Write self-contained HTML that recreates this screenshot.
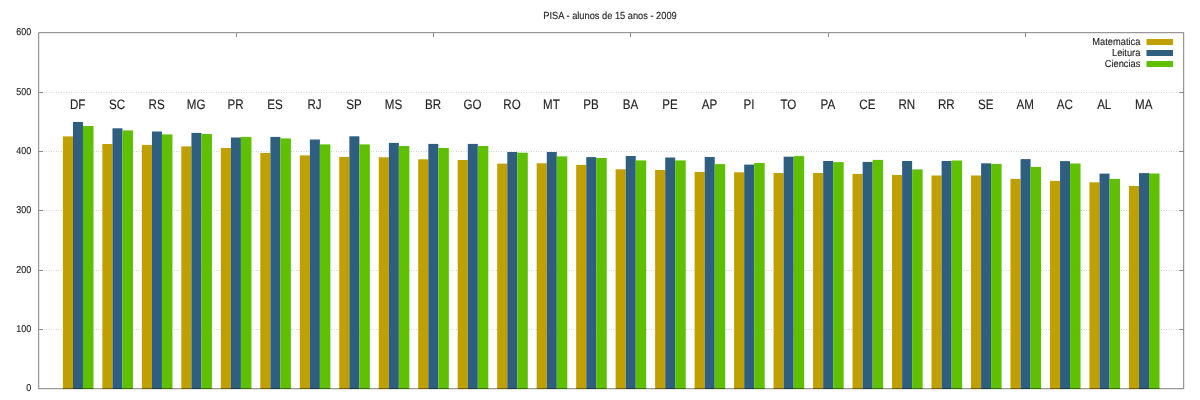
<!DOCTYPE html>
<html><head><meta charset="utf-8"><style>
html,body{margin:0;padding:0;background:#fff;}
svg{display:block;will-change:transform;}
text{font-family:"Liberation Sans",sans-serif;fill:#242424;stroke:#242424;stroke-width:0.12px;text-rendering:geometricPrecision;}
</style></head><body>
<svg width="1200" height="400" viewBox="0 0 1200 400">
<rect x="0" y="0" width="1200" height="400" fill="#fff"/>

<line x1="43.5" y1="92.5" x2="1178" y2="92.5" stroke="#d0d0d0" stroke-width="1" stroke-dasharray="1,1.5"/>
<line x1="43.5" y1="151.5" x2="1178" y2="151.5" stroke="#d0d0d0" stroke-width="1" stroke-dasharray="1,1.5"/>
<line x1="43.5" y1="210.5" x2="1178" y2="210.5" stroke="#d0d0d0" stroke-width="1" stroke-dasharray="1,1.5"/>
<line x1="43.5" y1="270.5" x2="1178" y2="270.5" stroke="#d0d0d0" stroke-width="1" stroke-dasharray="1,1.5"/>
<line x1="43.5" y1="329.5" x2="1178" y2="329.5" stroke="#d0d0d0" stroke-width="1" stroke-dasharray="1,1.5"/>
<rect x="62.88" y="136.40" width="10.10" height="252.60" fill="#c0a000"/>
<rect x="72.98" y="122.00" width="10.00" height="267.00" fill="#2e5f80"/>
<rect x="82.98" y="126.00" width="10.50" height="263.00" fill="#5ec000"/>
<rect x="102.37" y="144.00" width="10.10" height="245.00" fill="#c0a000"/>
<rect x="112.47" y="128.30" width="10.00" height="260.70" fill="#2e5f80"/>
<rect x="122.47" y="130.40" width="10.50" height="258.60" fill="#5ec000"/>
<rect x="141.85" y="144.90" width="10.10" height="244.10" fill="#c0a000"/>
<rect x="151.95" y="131.50" width="10.00" height="257.50" fill="#2e5f80"/>
<rect x="161.95" y="134.40" width="10.50" height="254.60" fill="#5ec000"/>
<rect x="181.33" y="146.40" width="10.10" height="242.60" fill="#c0a000"/>
<rect x="191.43" y="132.90" width="10.00" height="256.10" fill="#2e5f80"/>
<rect x="201.43" y="134.00" width="10.50" height="255.00" fill="#5ec000"/>
<rect x="220.81" y="148.00" width="10.10" height="241.00" fill="#c0a000"/>
<rect x="230.91" y="137.50" width="10.00" height="251.50" fill="#2e5f80"/>
<rect x="240.91" y="136.90" width="10.50" height="252.10" fill="#5ec000"/>
<rect x="260.30" y="152.90" width="10.10" height="236.10" fill="#c0a000"/>
<rect x="270.40" y="136.90" width="10.00" height="252.10" fill="#2e5f80"/>
<rect x="280.40" y="138.40" width="10.50" height="250.60" fill="#5ec000"/>
<rect x="299.78" y="155.40" width="10.10" height="233.60" fill="#c0a000"/>
<rect x="309.88" y="139.50" width="10.00" height="249.50" fill="#2e5f80"/>
<rect x="319.88" y="144.40" width="10.50" height="244.60" fill="#5ec000"/>
<rect x="339.26" y="156.90" width="10.10" height="232.10" fill="#c0a000"/>
<rect x="349.36" y="136.30" width="10.00" height="252.70" fill="#2e5f80"/>
<rect x="359.36" y="144.40" width="10.50" height="244.60" fill="#5ec000"/>
<rect x="378.74" y="157.30" width="10.10" height="231.70" fill="#c0a000"/>
<rect x="388.84" y="142.90" width="10.00" height="246.10" fill="#2e5f80"/>
<rect x="398.84" y="146.00" width="10.50" height="243.00" fill="#5ec000"/>
<rect x="418.23" y="159.30" width="10.10" height="229.70" fill="#c0a000"/>
<rect x="428.33" y="143.90" width="10.00" height="245.10" fill="#2e5f80"/>
<rect x="438.33" y="148.00" width="10.50" height="241.00" fill="#5ec000"/>
<rect x="457.71" y="160.00" width="10.10" height="229.00" fill="#c0a000"/>
<rect x="467.81" y="143.90" width="10.00" height="245.10" fill="#2e5f80"/>
<rect x="477.81" y="146.00" width="10.50" height="243.00" fill="#5ec000"/>
<rect x="497.19" y="163.60" width="10.10" height="225.40" fill="#c0a000"/>
<rect x="507.29" y="152.00" width="10.00" height="237.00" fill="#2e5f80"/>
<rect x="517.29" y="152.70" width="10.50" height="236.30" fill="#5ec000"/>
<rect x="536.68" y="163.30" width="10.10" height="225.70" fill="#c0a000"/>
<rect x="546.78" y="152.00" width="10.00" height="237.00" fill="#2e5f80"/>
<rect x="556.78" y="156.40" width="10.50" height="232.60" fill="#5ec000"/>
<rect x="576.16" y="164.90" width="10.10" height="224.10" fill="#c0a000"/>
<rect x="586.26" y="157.10" width="10.00" height="231.90" fill="#2e5f80"/>
<rect x="596.26" y="158.00" width="10.50" height="231.00" fill="#5ec000"/>
<rect x="615.64" y="169.30" width="10.10" height="219.70" fill="#c0a000"/>
<rect x="625.74" y="156.00" width="10.00" height="233.00" fill="#2e5f80"/>
<rect x="635.74" y="160.40" width="10.50" height="228.60" fill="#5ec000"/>
<rect x="655.12" y="170.00" width="10.10" height="219.00" fill="#c0a000"/>
<rect x="665.22" y="157.50" width="10.00" height="231.50" fill="#2e5f80"/>
<rect x="675.22" y="160.40" width="10.50" height="228.60" fill="#5ec000"/>
<rect x="694.61" y="171.90" width="10.10" height="217.10" fill="#c0a000"/>
<rect x="704.71" y="157.00" width="10.00" height="232.00" fill="#2e5f80"/>
<rect x="714.71" y="164.10" width="10.50" height="224.90" fill="#5ec000"/>
<rect x="734.09" y="172.30" width="10.10" height="216.70" fill="#c0a000"/>
<rect x="744.19" y="164.60" width="10.00" height="224.40" fill="#2e5f80"/>
<rect x="754.19" y="163.00" width="10.50" height="226.00" fill="#5ec000"/>
<rect x="773.57" y="173.00" width="10.10" height="216.00" fill="#c0a000"/>
<rect x="783.67" y="156.70" width="10.00" height="232.30" fill="#2e5f80"/>
<rect x="793.67" y="156.10" width="10.50" height="232.90" fill="#5ec000"/>
<rect x="813.06" y="173.00" width="10.10" height="216.00" fill="#c0a000"/>
<rect x="823.16" y="161.00" width="10.00" height="228.00" fill="#2e5f80"/>
<rect x="833.16" y="162.10" width="10.50" height="226.90" fill="#5ec000"/>
<rect x="852.54" y="173.90" width="10.10" height="215.10" fill="#c0a000"/>
<rect x="862.64" y="161.90" width="10.00" height="227.10" fill="#2e5f80"/>
<rect x="872.64" y="159.90" width="10.50" height="229.10" fill="#5ec000"/>
<rect x="892.02" y="175.00" width="10.10" height="214.00" fill="#c0a000"/>
<rect x="902.12" y="161.00" width="10.00" height="228.00" fill="#2e5f80"/>
<rect x="912.12" y="169.40" width="10.50" height="219.60" fill="#5ec000"/>
<rect x="931.50" y="175.50" width="10.10" height="213.50" fill="#c0a000"/>
<rect x="941.60" y="161.00" width="10.00" height="228.00" fill="#2e5f80"/>
<rect x="951.60" y="160.50" width="10.50" height="228.50" fill="#5ec000"/>
<rect x="970.99" y="175.50" width="10.10" height="213.50" fill="#c0a000"/>
<rect x="981.09" y="163.30" width="10.00" height="225.70" fill="#2e5f80"/>
<rect x="991.09" y="163.90" width="10.50" height="225.10" fill="#5ec000"/>
<rect x="1010.47" y="178.90" width="10.10" height="210.10" fill="#c0a000"/>
<rect x="1020.57" y="159.10" width="10.00" height="229.90" fill="#2e5f80"/>
<rect x="1030.57" y="166.90" width="10.50" height="222.10" fill="#5ec000"/>
<rect x="1049.95" y="180.90" width="10.10" height="208.10" fill="#c0a000"/>
<rect x="1060.05" y="161.10" width="10.00" height="227.90" fill="#2e5f80"/>
<rect x="1070.05" y="163.50" width="10.50" height="225.50" fill="#5ec000"/>
<rect x="1089.43" y="182.30" width="10.10" height="206.70" fill="#c0a000"/>
<rect x="1099.53" y="173.60" width="10.00" height="215.40" fill="#2e5f80"/>
<rect x="1109.53" y="178.90" width="10.50" height="210.10" fill="#5ec000"/>
<rect x="1128.92" y="186.00" width="10.10" height="203.00" fill="#c0a000"/>
<rect x="1139.02" y="173.10" width="10.00" height="215.90" fill="#2e5f80"/>
<rect x="1149.02" y="173.50" width="10.50" height="215.50" fill="#5ec000"/>
<text transform="translate(77.68,108.60) scale(1,1.18)" font-size="11.6" text-anchor="middle">DF</text>
<text transform="translate(117.17,108.60) scale(1,1.18)" font-size="11.6" text-anchor="middle">SC</text>
<text transform="translate(156.65,108.60) scale(1,1.18)" font-size="11.6" text-anchor="middle">RS</text>
<text transform="translate(196.13,108.60) scale(1,1.18)" font-size="11.6" text-anchor="middle">MG</text>
<text transform="translate(235.61,108.60) scale(1,1.18)" font-size="11.6" text-anchor="middle">PR</text>
<text transform="translate(275.10,108.60) scale(1,1.18)" font-size="11.6" text-anchor="middle">ES</text>
<text transform="translate(314.58,108.60) scale(1,1.18)" font-size="11.6" text-anchor="middle">RJ</text>
<text transform="translate(354.06,108.60) scale(1,1.18)" font-size="11.6" text-anchor="middle">SP</text>
<text transform="translate(393.54,108.60) scale(1,1.18)" font-size="11.6" text-anchor="middle">MS</text>
<text transform="translate(433.03,108.60) scale(1,1.18)" font-size="11.6" text-anchor="middle">BR</text>
<text transform="translate(472.51,108.60) scale(1,1.18)" font-size="11.6" text-anchor="middle">GO</text>
<text transform="translate(511.99,108.60) scale(1,1.18)" font-size="11.6" text-anchor="middle">RO</text>
<text transform="translate(551.48,108.60) scale(1,1.18)" font-size="11.6" text-anchor="middle">MT</text>
<text transform="translate(590.96,108.60) scale(1,1.18)" font-size="11.6" text-anchor="middle">PB</text>
<text transform="translate(630.44,108.60) scale(1,1.18)" font-size="11.6" text-anchor="middle">BA</text>
<text transform="translate(669.92,108.60) scale(1,1.18)" font-size="11.6" text-anchor="middle">PE</text>
<text transform="translate(709.41,108.60) scale(1,1.18)" font-size="11.6" text-anchor="middle">AP</text>
<text transform="translate(748.89,108.60) scale(1,1.18)" font-size="11.6" text-anchor="middle">PI</text>
<text transform="translate(788.37,108.60) scale(1,1.18)" font-size="11.6" text-anchor="middle">TO</text>
<text transform="translate(827.86,108.60) scale(1,1.18)" font-size="11.6" text-anchor="middle">PA</text>
<text transform="translate(867.34,108.60) scale(1,1.18)" font-size="11.6" text-anchor="middle">CE</text>
<text transform="translate(906.82,108.60) scale(1,1.18)" font-size="11.6" text-anchor="middle">RN</text>
<text transform="translate(946.30,108.60) scale(1,1.18)" font-size="11.6" text-anchor="middle">RR</text>
<text transform="translate(985.79,108.60) scale(1,1.18)" font-size="11.6" text-anchor="middle">SE</text>
<text transform="translate(1025.27,108.60) scale(1,1.18)" font-size="11.6" text-anchor="middle">AM</text>
<text transform="translate(1064.75,108.60) scale(1,1.18)" font-size="11.6" text-anchor="middle">AC</text>
<text transform="translate(1104.23,108.60) scale(1,1.18)" font-size="11.6" text-anchor="middle">AL</text>
<text transform="translate(1143.72,108.60) scale(1,1.18)" font-size="11.6" text-anchor="middle">MA</text>
<path d="M38.7,32.7 H1183.7 V388.7 H38.7 Z" fill="none" stroke="rgba(0,0,0,0.5)" stroke-width="1"/>
<line x1="39.2" y1="92.5" x2="43" y2="92.5" stroke="rgba(0,0,0,0.45)"/>
<line x1="1179" y1="92.5" x2="1183.2" y2="92.5" stroke="rgba(0,0,0,0.45)"/>
<line x1="39.2" y1="151.5" x2="43" y2="151.5" stroke="rgba(0,0,0,0.45)"/>
<line x1="1179" y1="151.5" x2="1183.2" y2="151.5" stroke="rgba(0,0,0,0.45)"/>
<line x1="39.2" y1="210.5" x2="43" y2="210.5" stroke="rgba(0,0,0,0.45)"/>
<line x1="1179" y1="210.5" x2="1183.2" y2="210.5" stroke="rgba(0,0,0,0.45)"/>
<line x1="39.2" y1="270.5" x2="43" y2="270.5" stroke="rgba(0,0,0,0.45)"/>
<line x1="1179" y1="270.5" x2="1183.2" y2="270.5" stroke="rgba(0,0,0,0.45)"/>
<line x1="39.2" y1="329.5" x2="43" y2="329.5" stroke="rgba(0,0,0,0.45)"/>
<line x1="1179" y1="329.5" x2="1183.2" y2="329.5" stroke="rgba(0,0,0,0.45)"/>
<line x1="236.5" y1="33.2" x2="236.5" y2="37" stroke="rgba(0,0,0,0.45)"/>
<line x1="433.5" y1="33.2" x2="433.5" y2="37" stroke="rgba(0,0,0,0.45)"/>
<line x1="630.5" y1="33.2" x2="630.5" y2="37" stroke="rgba(0,0,0,0.45)"/>
<line x1="828.5" y1="33.2" x2="828.5" y2="37" stroke="rgba(0,0,0,0.45)"/>
<line x1="1025.5" y1="33.2" x2="1025.5" y2="37" stroke="rgba(0,0,0,0.45)"/>
<text transform="translate(31.30,35.45) scale(1,1.1)" font-size="9" text-anchor="end">600</text>
<text transform="translate(31.30,94.78) scale(1,1.1)" font-size="9" text-anchor="end">500</text>
<text transform="translate(31.30,154.12) scale(1,1.1)" font-size="9" text-anchor="end">400</text>
<text transform="translate(31.30,213.45) scale(1,1.1)" font-size="9" text-anchor="end">300</text>
<text transform="translate(31.30,272.78) scale(1,1.1)" font-size="9" text-anchor="end">200</text>
<text transform="translate(31.30,332.12) scale(1,1.1)" font-size="9" text-anchor="end">100</text>
<text transform="translate(31.30,391.45) scale(1,1.1)" font-size="9" text-anchor="end">0</text>
<text transform="translate(610.00,19.00) scale(1,1.107)" font-size="9.27" text-anchor="middle">PISA - alunos de 15 anos - 2009</text>
<text transform="translate(1140.40,44.60) scale(1,1.08)" font-size="9.3" text-anchor="end">Matematica</text>
<rect x="1146.5" y="39" width="26.5" height="6" fill="#c0a000"/>
<text transform="translate(1140.40,55.70) scale(1,1.08)" font-size="9.3" text-anchor="end">Leitura</text>
<rect x="1146.5" y="50" width="26.5" height="6" fill="#2e5f80"/>
<text transform="translate(1140.40,66.70) scale(1,1.08)" font-size="9.3" text-anchor="end">Ciencias</text>
<rect x="1146.5" y="61" width="26.5" height="6" fill="#5ec000"/>
</svg>
</body></html>
